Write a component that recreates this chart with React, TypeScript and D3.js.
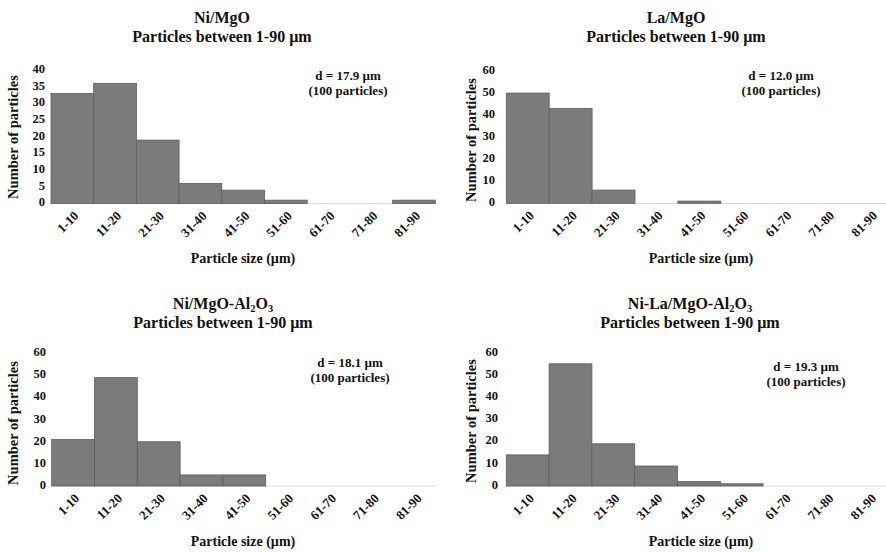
import React from "react";
import * as d3 from "d3";

const bins = ["1-10", "11-20", "21-30", "31-40", "41-50", "51-60", "61-70", "71-80", "81-90"];
const niMgO = [33, 36, 19, 6, 4, 1, 0, 0, 1];
const laMgO = [50, 43, 6, 0, 1, 0, 0, 0, 0];
const niMgOAl = [21, 49, 20, 5, 5, 0, 0, 0, 0];
const niLaMgOAl = [14, 55, 19, 9, 2, 1, 0, 0, 0];
const ticks40 = [0, 5, 10, 15, 20, 25, 30, 35, 40];
const ticks60 = [0, 10, 20, 30, 40, 50, 60];
const diameters = ["d = 17.9 µm", "d = 12.0 µm", "d = 18.1 µm", "d = 19.3 µm"];

type Layout = {
  left: number; binW: number; y0: number; yTop: number; max: number;
  titleX: number; titleY: number; annX: number; annY: number;
  ylabX: number; ylabY: number; xlabX: number; xlabY: number; tickRight: number;
};

const layouts: Layout[] = [
  { left: 51, binW: 42.7, y0: 203.5, yTop: 70, max: 40, titleX: 222, titleY: 23, annX: 348, annY: 80, ylabX: 15, ylabY: 137, xlabX: 243, xlabY: 263, tickRight: 45 },
  { left: 506.3, binW: 42.9, y0: 203.3, yTop: 71, max: 60, titleX: 676, titleY: 23, annX: 781, annY: 80, ylabX: 473, ylabY: 140, xlabX: 701, xlabY: 263, tickRight: 495 },
  { left: 51.7, binW: 42.8, y0: 486, yTop: 353.3, max: 60, titleX: 223, titleY: 309, annX: 350, annY: 367, ylabX: 15, ylabY: 423, xlabX: 243, xlabY: 546, tickRight: 46 },
  { left: 506.3, binW: 42.8, y0: 486, yTop: 352.7, max: 60, titleX: 690, titleY: 309, annX: 806, annY: 371, ylabX: 473, ylabY: 421, xlabX: 701, xlabY: 546, tickRight: 498 },
];

const FONT = "Liberation Serif";

function Title({ idx, x, y }: { idx: number; x: number; y: number }) {
  let first: React.ReactNode;
  if (idx === 0) first = "Ni/MgO";
  else if (idx === 1) first = "La/MgO";
  else if (idx === 2)
    first = (<>Ni/MgO-Al<tspan fontSize={10.5} dy={3}>2</tspan><tspan dy={-3}>O</tspan><tspan fontSize={10.5} dy={3}>3</tspan></>);
  else
    first = (<>Ni-La/MgO-Al<tspan fontSize={10.5} dy={3}>2</tspan><tspan dy={-3}>O</tspan><tspan fontSize={10.5} dy={3}>3</tspan></>);
  return (
    <g style={{ fontFamily: FONT }} fontWeight="bold" fontSize={16} textAnchor="middle" fill="#111">
      <text x={x} y={y}>{first}</text>
      <text x={x} y={y + 19}>Particles between 1-90 µm</text>
    </g>
  );
}

function Panel({ idx, values, ticks }: { idx: number; values: number[]; ticks: number[] }) {
  const L = layouts[idx];
  const x = d3.scaleBand<string>().domain(bins).range([L.left, L.left + L.binW * bins.length]).padding(0);
  const y = d3.scaleLinear().domain([0, L.max]).range([L.y0, L.yTop]);
  const [x0, x1] = x.range();
  return (
    <g>
      <Title idx={idx} x={L.titleX} y={L.titleY} />
      <line x1={x0} x2={x1} y1={L.y0} y2={L.y0} stroke="#d9d9d9" strokeWidth={1.2} />
      {values.map((v, i) =>
        v > 0 ? (
          <rect key={i} x={x(bins[i])!} y={y(v)} width={x.bandwidth()} height={L.y0 - y(v)}
            fill="#7b7b7b" stroke="#5e5e5e" strokeWidth={0.8} />
        ) : null
      )}
      <g style={{ fontFamily: FONT }} fontWeight="bold" fill="#111">
        {ticks.map((t) => (
          <text key={t} x={L.tickRight} y={y(t)} textAnchor="end" dominantBaseline="middle" fontSize={12.5}>{t}</text>
        ))}
        {bins.map((b) => {
          const cx = x(b)! + x.bandwidth() / 2 + 5;
          const cy = L.y0 + 11;
          return (
            <text key={b} x={cx} y={cy} textAnchor="end" dominantBaseline="middle" fontSize={13}
              transform={`rotate(-45 ${cx} ${cy})`}>{b}</text>
          );
        })}
      </g>
      <text x={L.ylabX} y={L.ylabY} transform={`rotate(-90 ${L.ylabX} ${L.ylabY})`} textAnchor="middle"
        dominantBaseline="middle" style={{ fontFamily: FONT }} fontWeight="bold" fontSize={14.5} fill="#111">Number of particles</text>
      <text x={L.xlabX} y={L.xlabY} textAnchor="middle" style={{ fontFamily: FONT }} fontWeight="bold" fontSize={14} fill="#111">Particle size (µm)</text>
      <g style={{ fontFamily: FONT }} fontWeight="bold" fontSize={13} textAnchor="middle" fill="#111">
        <text x={L.annX} y={L.annY}>{diameters[idx]}</text>
        <text x={L.annX} y={L.annY + 15}>(100 particles)</text>
      </g>
    </g>
  );
}

export default function App() {
  return (
    <svg width={886} height={552} style={{ position: "absolute", left: 0, top: 0, background: "#fff" }}>
      <rect width={886} height={552} fill="#fff" />
      <Panel idx={0} values={niMgO} ticks={ticks40} />
      <Panel idx={1} values={laMgO} ticks={ticks60} />
      <Panel idx={2} values={niMgOAl} ticks={ticks60} />
      <Panel idx={3} values={niLaMgOAl} ticks={ticks60} />
    </svg>
  );
}
